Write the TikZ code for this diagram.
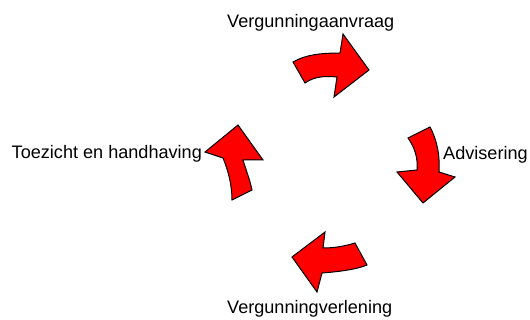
\documentclass[tikz,border=0pt]{standalone}
\usepackage{fontspec}
\setmainfont{Liberation Sans}
\begin{document}
\begin{tikzpicture}[x=1pt,y=-1pt,
  cyclearrow/.style={fill=red,draw=black,line width=1pt,line join=miter},
  lbl/.style={inner sep=0pt,anchor=base west,font=\fontsize{18.1}{20}\selectfont}]
\useasboundingbox (0,0) rectangle (530,320);
% top arrow
\draw[cyclearrow] (293,62) -- (305,83) .. controls (315,76) and (326,76) .. (337,77)
  -- (334,97) -- (369,70) -- (343,34) -- (340,53)
  .. controls (320,53) and (305,55) .. (293,62) -- cycle;
% right arrow
\draw[cyclearrow] (408,138) -- (430,127) .. controls (437,140) and (440,155) .. (439,172)
  -- (455,177) -- (423,203) -- (397,172) -- (417,170)
  .. controls (418,158) and (415,148) .. (408,138) -- cycle;
% bottom arrow
\draw[cyclearrow] (355,243) -- (367,265) .. controls (355,270) and (335,272) .. (322,273)
  -- (317,292) -- (292,257) -- (325,232) -- (323,248)
  .. controls (335,248) and (345,246) .. (355,243) -- cycle;
% left arrow
\draw[cyclearrow] (232,200) -- (252,190) .. controls (250,180) and (246,170) .. (243,160)
  -- (263,160) -- (238,125) -- (205,152) -- (223,158)
  .. controls (228,170) and (232,185) .. (232,200) -- cycle;
\node[lbl] (aanvraag) at (227,28) {Vergunningaanvraag};
\node[lbl] (advies) at (443,160) {Advisering};
\node[lbl] (verlening) at (227,313) {Vergunningverlening};
\node[lbl] (toezicht) at (11.5,159) {Toezicht en handhaving};
\end{tikzpicture}
\end{document}
